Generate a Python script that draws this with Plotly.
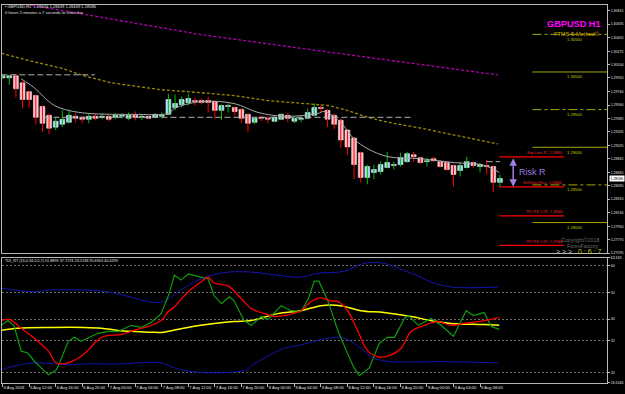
import plotly.graph_objects as go

# ---------------- DATA ----------------
bar_idx = list(range(76))  # H1 bars from 6 Aug 2018 08:00 to 9 Aug 11:00
open_ = [1.29922, 1.29922, 1.29949, 1.29856, 1.29738, 1.29686, 1.29542, 1.29424, 1.29267, 1.29306,
         1.29332, 1.29411, 1.29398, 1.29372, 1.29411, 1.29398, 1.29411, 1.29398, 1.29411, 1.29385,
         1.29424, 1.29398, 1.29411, 1.29398, 1.29411, 1.29437, 1.29529, 1.29568, 1.29594, 1.29620,
         1.29620, 1.29620, 1.29607, 1.29490, 1.29542, 1.29529, 1.29503, 1.29437, 1.29332, 1.29398,
         1.29385, 1.29346, 1.29372, 1.29424, 1.29346, 1.29372, 1.29385, 1.29424, 1.29529, 1.29490,
         1.29424, 1.29359, 1.29228, 1.29123, 1.28927, 1.28600, 1.28665, 1.28678, 1.28731, 1.28757,
         1.28770, 1.28809, 1.28901, 1.28862, 1.28809, 1.28848, 1.28809, 1.28796, 1.28757, 1.28691,
         1.28731, 1.28796, 1.28744, 1.28757, 1.28744, 1.28534]
high = [1.29962, 1.29962, 1.29975, 1.29882, 1.29751, 1.29699, 1.29555, 1.29450, 1.29398, 1.29490,
        1.29503, 1.29450, 1.29411, 1.29450, 1.29437, 1.29450, 1.29437, 1.29450, 1.29450, 1.29463,
        1.29476, 1.29437, 1.29411, 1.29450, 1.29463, 1.29712, 1.29699, 1.29673, 1.29712, 1.29660,
        1.29647, 1.29673, 1.29620, 1.29568, 1.29581, 1.29542, 1.29516, 1.29450, 1.29398, 1.29424,
        1.29411, 1.29411, 1.29450, 1.29450, 1.29411, 1.29411, 1.29516, 1.29581, 1.29568, 1.29503,
        1.29450, 1.29385, 1.29241, 1.29136, 1.28940, 1.28770, 1.28770, 1.28809, 1.28940, 1.28809,
        1.28927, 1.28940, 1.28940, 1.28875, 1.28862, 1.28875, 1.28822, 1.28809, 1.28770, 1.28809,
        1.28875, 1.28809, 1.28796, 1.28835, 1.28757, 1.28639]
low = [1.29909, 1.29830, 1.29660, 1.29516, 1.29529, 1.29306, 1.29201, 1.29175, 1.29228, 1.29267,
       1.29319, 1.29332, 1.29319, 1.29319, 1.29359, 1.29372, 1.29346, 1.29372, 1.29385, 1.29359,
       1.29359, 1.29359, 1.29372, 1.29385, 1.29385, 1.29424, 1.29490, 1.29529, 1.29555, 1.29555,
       1.29568, 1.29463, 1.29385, 1.29359, 1.29463, 1.29424, 1.29319, 1.29201, 1.29306, 1.29346,
       1.29319, 1.29332, 1.29359, 1.29332, 1.29319, 1.29332, 1.29372, 1.29411, 1.29463, 1.29267,
       1.29241, 1.28992, 1.28901, 1.28573, 1.28534, 1.28508, 1.28573, 1.28639, 1.28718, 1.28704,
       1.28744, 1.28796, 1.28809, 1.28783, 1.28744, 1.28809, 1.28731, 1.28691, 1.28482, 1.28613,
       1.28718, 1.28731, 1.28665, 1.28639, 1.28404, 1.28469]
close = [1.29949, 1.29949, 1.29778, 1.29634, 1.29634, 1.29398, 1.29319, 1.29254, 1.29346, 1.29372,
         1.29424, 1.29385, 1.29372, 1.29411, 1.29385, 1.29411, 1.29372, 1.29424, 1.29424, 1.29424,
         1.29398, 1.29411, 1.29385, 1.29437, 1.29424, 1.29634, 1.29581, 1.29634, 1.29647, 1.29607,
         1.29594, 1.29594, 1.29490, 1.29555, 1.29555, 1.29476, 1.29385, 1.29319, 1.29385, 1.29385,
         1.29372, 1.29398, 1.29437, 1.29385, 1.29385, 1.29385, 1.29463, 1.29529, 1.29516, 1.29372,
         1.29306, 1.29097, 1.29005, 1.28770, 1.28600, 1.28744, 1.28704, 1.28770, 1.28796, 1.28770,
         1.28862, 1.28914, 1.28875, 1.28796, 1.28822, 1.28822, 1.28744, 1.28704, 1.28639, 1.28757,
         1.28809, 1.28757, 1.28770, 1.28744, 1.28534, 1.28586]

# moving averages on price panel (bar index, price)
magenta_i = [-0.2, 5.8, 14.9, 29.9, 45.0, 60.1, 74.7]
magenta_p = [1.30942, 1.30864, 1.30726, 1.30497, 1.30314, 1.30131, 1.29961]
olive_i = [-0.2, 4.3, 8.8, 12.3, 16.4, 19.8, 23.9, 29.9, 34.9, 40.0, 45.0, 49.1, 51.5, 55.1, 58.1, 63.1, 68.1, 73.2, 74.7]
olive_p = [1.30249, 1.30144, 1.30052, 1.29949, 1.29856, 1.29817, 1.29764, 1.29725, 1.29686, 1.29620,
           1.29581, 1.29555, 1.29503, 1.29398, 1.29332, 1.29254, 1.29162, 1.29071, 1.29044]
gray_i = [2.8, 4.75, 6.3, 7.8, 9.9, 12.9, 19.8, 25.0, 25.9, 29.9, 34.9, 38.5, 42.5, 47.6, 48.5, 51.1,
          53.0, 55.1, 58.1, 63.1, 68.1, 72.2, 74.1, 74.9]
gray_p = [1.29908, 1.29791, 1.29660, 1.29555, 1.29490, 1.29450, 1.29437, 1.29450, 1.29516, 1.29607,
          1.29581, 1.29463, 1.29411, 1.29450, 1.29476, 1.29319, 1.29110, 1.28979, 1.28875, 1.28848,
          1.28796, 1.28770, 1.28704, 1.28665]

# dashed horizontal S/R lines
sr_price = [1.29962, 1.29398, 1.28809]
sr_start = [-0.2, 6.3, 73.0]
sr_end = [13.9, 61.6, 75.0]

# round-number levels on the right
level_price = [1.30500, 1.30000, 1.29500, 1.29000, 1.28500, 1.28000]
level_label = ["1.30500", "1.30000", "1.29500", "1.29000", "1.28500", "1.28000"]
level_solid = [False, True, False, True, False, True]

# trade levels
trade_price = [1.28873, 1.28474, 1.28089, 1.27696]
trade_label = ["Stop Loss 'R' - 1.28866", "Sell Entry Price - 1.28466",
               "TP1 R:R 1:1R - 1.28066", "TP2 R:R 1:2R - 1.27666"]

price_ticks = [1.30815, 1.30635, 1.30455, 1.30275, 1.30100, 1.29920, 1.29740, 1.29560, 1.29385,
               1.29205, 1.29025, 1.28845, 1.28665, 1.28490, 1.28310, 1.28130, 1.27950, 1.27770, 1.27595]
last_price = 1.28586

time_tick_bars = [0, 4, 8, 12, 16, 20, 24, 28, 32, 36, 40, 44, 48, 52, 56, 60, 64, 68, 72]
time_tick_text = ["6 Aug 2018", "6 Aug 12:00", "6 Aug 16:00", "6 Aug 20:00", "7 Aug 00:00",
                  "7 Aug 04:00", "7 Aug 08:00", "7 Aug 12:00", "7 Aug 16:00", "7 Aug 20:00",
                  "8 Aug 00:00", "8 Aug 04:00", "8 Aug 08:00", "8 Aug 12:00", "8 Aug 16:00",
                  "8 Aug 20:00", "9 Aug 00:00", "9 Aug 04:00", "9 Aug 08:00"]

# TDI indicator (bar index, value)
up_i = [-0.2, 4.75, 7.3, 14.9, 17.4, 19.8, 22.4, 24.3, 26.5, 28.9, 31.0, 34.0, 37.5, 42.5, 45.0, 47.6,
        51.5, 54.5, 57.5, 59.7, 62.7, 64.6, 67.6, 74.7]
up_v = [51.7, 50.3, 51.0, 50.6, 49.5, 48.0, 46.4, 46.6, 50.3, 54.0, 56.2, 57.7, 57.7, 56.2, 55.8, 57.3,
        58.0, 61.0, 61.0, 59.1, 56.2, 54.0, 52.1, 52.1]
lo_i = [-0.2, 1.3, 4.75, 9.9, 12.3, 17.4, 23.9, 25.9, 28.5, 33.0, 36.8, 37.5, 39.5, 42.5, 45.0, 47.6,
        50.0, 51.5, 53.6, 56.0, 58.6, 62.7, 67.6, 74.7]
lo_v = [21.0, 22.1, 23.6, 22.9, 23.2, 23.2, 23.6, 21.7, 20.3, 19.9, 21.0, 22.5, 25.4, 29.1, 30.3, 32.1,
        33.2, 32.9, 29.9, 25.4, 24.0, 24.0, 24.0, 23.6]
green_i = [-0.2, 0.8, 1.7, 2.8, 3.8, 4.75, 5.8, 6.9, 8.1, 8.4, 9.9, 10.8, 11.8, 14.4, 15.9, 17.4, 19.4,
           20.9, 22.4, 23.9, 25.0, 25.9, 26.9, 28.0, 29.9, 31.0, 31.9, 33.0, 34.2, 34.9, 36.4, 37.5,
           39.0, 40.0, 42.0, 43.5, 45.0, 46.1, 47.0, 47.7, 49.1, 50.6, 52.1, 53.0, 53.8, 55.3, 56.8,
           58.0, 59.1, 60.6, 61.2, 62.7, 64.6, 66.1, 68.0, 69.9, 71.0, 72.6, 73.7, 74.9]
green_v = [37.7, 39.5, 37.7, 28.0, 27.3, 24.3, 21.7, 19.1, 21.0, 22.5, 31.7, 33.2, 31.7, 34.7, 35.4,
           35.4, 37.7, 36.9, 38.8, 42.1, 48.8, 56.6, 54.7, 57.0, 55.8, 55.1, 48.8, 45.8, 48.4, 46.9,
           39.5, 37.7, 41.0, 39.9, 45.1, 43.2, 42.9, 47.7, 54.3, 54.3, 46.6, 35.4, 26.6, 21.7, 18.8,
           21.7, 31.0, 33.2, 33.2, 40.3, 41.4, 37.7, 40.3, 37.7, 33.6, 43.2, 41.4, 42.5, 37.3, 36.2]
red_i = [-0.2, 1.0, 2.8, 4.75, 6.9, 8.1, 9.9, 11.4, 12.9, 14.9, 17.9, 19.8, 22.4, 23.9, 25.0, 25.9,
         28.0, 29.9, 31.0, 31.9, 34.0, 36.0, 37.5, 38.5, 39.5, 41.0, 42.5, 45.0, 46.5, 48.0, 49.5,
         50.6, 52.1, 53.6, 55.1, 56.8, 58.6, 60.1, 61.6, 63.6, 65.7, 67.6, 69.6, 72.6, 74.9]
red_v = [39.5, 39.9, 36.6, 32.9, 28.0, 23.6, 23.6, 25.4, 28.4, 33.2, 34.3, 35.8, 37.7, 39.5, 42.9,
         44.7, 50.3, 54.0, 55.8, 53.6, 52.5, 47.7, 44.0, 42.9, 42.1, 41.0, 41.4, 43.2, 46.6, 48.0,
         46.9, 46.6, 42.9, 35.4, 28.0, 25.8, 26.6, 29.1, 35.4, 37.7, 39.1, 37.7, 38.4, 39.5, 40.6]
yel_i = [-0.2, 2.3, 7.3, 12.3, 14.9, 17.4, 19.8, 22.4, 24.3, 26.5, 29.9, 34.9, 37.5, 41.5, 45.0, 48.0,
         51.0, 54.0, 57.5, 61.6, 64.6, 67.6, 72.6, 74.9]
yel_v = [35.8, 36.6, 36.9, 36.9, 36.6, 35.8, 35.4, 35.1, 35.1, 36.2, 37.7, 39.1, 39.5, 42.1, 43.2, 45.1,
         45.1, 43.2, 42.5, 41.0, 39.5, 38.4, 38.0, 37.7]
tdi_levels = [63.163, 60, 50, 40, 32, 20, 16.1046]
tdi_level_text = ["63.163", "60", "50", "40", "32", "20", "16.1046"]

# ---------------- FIGURE ----------------
W, H = 625, 394
XR = [-0.1, 91.15]
FONT = "Liberation Sans"
SMALL = 4.1
fig = go.Figure()

def wick_xy(is_bull):
    xs, ys = [], []
    for i, o, h, l, c in zip(bar_idx, open_, high, low, close):
        if (c >= o) == is_bull:
            xs += [i, i, None]
            ys += [l, h, None]
    return xs, ys

for bull, col in [(True, "#00c000"), (False, "#ff0000")]:
    xs, ys = wick_xy(bull)
    fig.add_trace(go.Scatter(x=xs, y=ys, mode="lines", line=dict(color=col, width=1),
                             hoverinfo="skip", showlegend=False, xaxis="x", yaxis="y"))

for bull, fill, edge in [(True, "#9fd8f5", "#e8f6ff"), (False, "#ffbcc8", "#ffe6ea")]:
    bx, bb, bh = [], [], []
    for i, o, c in zip(bar_idx, open_, close):
        if (c >= o) == bull:
            bx.append(i)
            bb.append(min(o, c))
            bh.append(max(abs(c - o), 0.00003))
    fig.add_trace(go.Bar(x=bx, y=bh, base=bb, width=0.72, marker=dict(color=fill, line=dict(color=edge, width=0.6)),
                         showlegend=False, hoverinfo="skip", xaxis="x", yaxis="y"))

# MAs
fig.add_trace(go.Scatter(x=magenta_i, y=magenta_p, mode="lines", line=dict(color="#b000b0", width=1.3, dash="3px,2px"),
                         showlegend=False, xaxis="x", yaxis="y"))
fig.add_trace(go.Scatter(x=olive_i, y=olive_p, mode="lines", line=dict(color="#9a8a00", width=1.3, dash="3px,2px"),
                         showlegend=False, xaxis="x", yaxis="y"))
fig.add_trace(go.Scatter(x=gray_i, y=gray_p, mode="lines", line=dict(color="#a8a8a8", width=1, shape="spline"),
                         showlegend=False, xaxis="x", yaxis="y"))
for p, s, e in zip(sr_price, sr_start, sr_end):
    fig.add_trace(go.Scatter(x=[s, e], y=[p, p], mode="lines", line=dict(color="#b0b0b0", width=1, dash="6px,3px"),
                             showlegend=False, xaxis="x", yaxis="y"))

annotations = []
for p, lab, solid in zip(level_price, level_label, level_solid):
    fig.add_trace(go.Scatter(x=[79.9, 91.3], y=[p, p], mode="lines",
                             line=dict(color="#a6a600", width=1, dash="solid" if solid else "dashdot"),
                             showlegend=False, xaxis="x", yaxis="y"))
    annotations.append(dict(x=84.75, y=p, xref="x", yref="y", text=lab, showarrow=False, yanchor="top",
                            xanchor="left", yshift=-0.5, font=dict(size=SMALL, color="#c8c800", family=FONT)))
for p, lab in zip(trade_price, trade_label):
    fig.add_trace(go.Scatter(x=[74.9, 84.7], y=[p, p], mode="lines", line=dict(color="#ff0000", width=1.2),
                             showlegend=False, xaxis="x", yaxis="y"))
    annotations.append(dict(x=84.6, y=p, xref="x", yref="y", text=lab, showarrow=False, yanchor="bottom",
                            xanchor="right", yshift=-0.5, font=dict(size=3.4, color="#ff2020", family=FONT)))
annotations.append(dict(x=77.0, y=trade_price[1], ax=77.0, ay=trade_price[0], xref="x", yref="y",
                        axref="x", ayref="y", showarrow=True, arrowhead=2, arrowside="end+start",
                        arrowsize=1, arrowwidth=1.5, arrowcolor="#a080e0", text=""))
annotations.append(dict(x=77.6, y=(trade_price[0] + trade_price[1]) / 2, xref="x", yref="y", text="Risk R",
                        showarrow=False, xanchor="left", font=dict(size=9, color="#9a7ce0", family=FONT)))

# TDI
fig.add_trace(go.Scatter(x=up_i, y=up_v, mode="lines", line=dict(color="#1515b0", width=1, shape="spline"),
                         showlegend=False, xaxis="x2", yaxis="y2"))
fig.add_trace(go.Scatter(x=lo_i, y=lo_v, mode="lines", line=dict(color="#1515b0", width=1, shape="spline"),
                         showlegend=False, xaxis="x2", yaxis="y2"))
fig.add_trace(go.Scatter(x=yel_i, y=yel_v, mode="lines", line=dict(color="#ffff00", width=1.5, shape="spline"),
                         showlegend=False, xaxis="x2", yaxis="y2"))
fig.add_trace(go.Scatter(x=green_i, y=green_v, mode="lines", line=dict(color="#109a10", width=1.2),
                         showlegend=False, xaxis="x2", yaxis="y2"))
fig.add_trace(go.Scatter(x=red_i, y=red_v, mode="lines", line=dict(color="#ff0000", width=1.3, shape="spline"),
                         showlegend=False, xaxis="x2", yaxis="y2"))

X0, X1 = 2 / W, 607 / W
def py(pix):
    return 1 - pix / H

annotations += [
    dict(x=X0 + 1 / W, y=py(4.5), xref="paper", yref="paper", xanchor="left", yanchor="middle", showarrow=False,
         text="▪ GBPUSD,H1  1.28534 1.28639 1.28469 1.28586", font=dict(size=SMALL, color="#e0e0e0", family=FONT)),
    dict(x=X0 + 1 / W, y=py(10.5), xref="paper", yref="paper", xanchor="left", yanchor="middle", showarrow=False,
         text="0 hours 5 minutes a 7 seconds to close bar", font=dict(size=SMALL, color="#e0e0e0", family=FONT)),
    dict(x=603 / W, y=py(22), xref="paper", yref="paper", xanchor="right", yanchor="middle", showarrow=False,
         text="<b>GBPUSD H1</b>", font=dict(size=9.2, color="#ff00ff", family=FONT)),
    dict(x=602 / W, y=py(32), xref="paper", yref="paper", xanchor="right", yanchor="middle", showarrow=False,
         text="FTMS-5-Method©", font=dict(size=5.6, color="#d8b000", family=FONT)),
    dict(x=601 / W, y=py(240.5), xref="paper", yref="paper", xanchor="right", yanchor="middle", showarrow=False,
         text="Copyright©2018", font=dict(size=5.3, color="#6a6a6a", family=FONT)),
    dict(x=601 / W, y=py(246.5), xref="paper", yref="paper", xanchor="right", yanchor="middle", showarrow=False,
         text="ForexFactory", font=dict(size=5.3, color="#6a6a6a", family=FONT)),
    dict(x=603 / W, y=py(252), xref="paper", yref="paper", xanchor="right", yanchor="middle", showarrow=False,
         text="<span style='color:#c0c0c0'>&gt; &gt; &gt;</span>   0 : 6 : 7", font=dict(size=7, color="#c8c800", family=FONT)),
    dict(x=X0 + 1 / W, y=py(261.5), xref="paper", yref="paper", xanchor="left", yanchor="middle", showarrow=False,
         text="TDI_RT (13,0,34,2,0,7) 51.8899 37.7174 23.5748 35.6903 40.4299",
         font=dict(size=3.8, color="#e0e0e0", family=FONT)),
    dict(x=X1 + 1.5 / W, y=last_price, xref="paper", yref="y", xanchor="left", yanchor="middle", showarrow=False,
         text=f"{last_price:.5f}", bgcolor="#ffffff", borderpad=0.5,
         font=dict(size=3.5, color="#000000", family=FONT)),
]

axis_common = dict(showline=True, mirror=True, linecolor="#b8b8b8", linewidth=1, zeroline=False)
fig.update_layout(
    width=W, height=H, margin=dict(l=0, r=0, t=0, b=0),
    paper_bgcolor="#000000", plot_bgcolor="#000000", barmode="overlay", showlegend=False,
    xaxis=dict(domain=[X0, X1], range=XR, anchor="y", showticklabels=False, showgrid=False, ticks="", **axis_common),
    yaxis=dict(domain=[py(254), py(3)], range=[1.27590, 1.30890], anchor="x", side="right", showgrid=False,
               tickvals=price_ticks, ticktext=[f"{v:.5f}" for v in price_ticks], ticks="outside", ticklen=2,
               tickcolor="#b8b8b8", tickfont=dict(size=3.5, color="#e0e0e0", family=FONT), **axis_common),
    xaxis2=dict(domain=[X0, X1], range=XR, anchor="y2", showgrid=False, tickvals=time_tick_bars,
                ticktext=time_tick_text, ticks="outside", ticklen=3, tickcolor="#b8b8b8", tickangle=0,
                ticklabelposition="outside right",
                tickfont=dict(size=SMALL, color="#e0e0e0", family=FONT), **axis_common),
    yaxis2=dict(domain=[py(384.7), py(258.2)], range=[16.1046, 63.163], anchor="x2", side="right",
                tickvals=tdi_levels, ticktext=tdi_level_text, ticks="outside", ticklen=2, tickcolor="#b8b8b8",
                showgrid=True, gridcolor="#6a6a6a", griddash="2px,2px", gridwidth=1,
                tickfont=dict(size=3.5, color="#e0e0e0", family=FONT), **axis_common),
    annotations=annotations,
)

fig.write_html("out.html")
